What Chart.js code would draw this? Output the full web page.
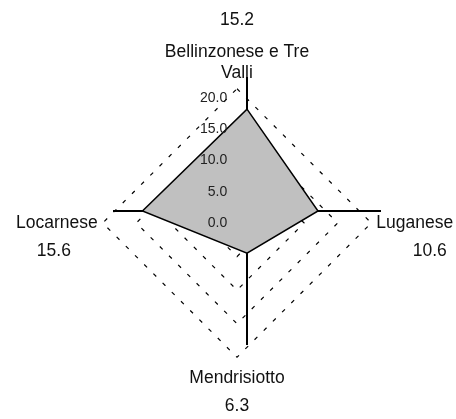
<!DOCTYPE html>
<html>
<head>
<meta charset="utf-8">
<script src="https://cdn.jsdelivr.net/npm/chart.js@4.4.0/dist/chart.umd.min.js"></script>
<style>
  html, body { margin: 0; padding: 0; background: #fff; overflow: hidden; }
  #wrap { position: relative; width: 456px; height: 419px; }
  #wrap canvas { position: absolute; left: 0; top: 0; }
</style>
</head>
<body>
<div id="wrap">
  <canvas id="gridChart" width="456" height="419"></canvas>
  <canvas id="dataChart" width="456" height="419"></canvas>
  <canvas id="tickChart" width="456" height="419"></canvas>
</div>
<script>
// ---- data ----
const regions = ["Bellinzonese e Tre Valli", "Luganese", "Mendrisiotto", "Locarnese"];
const shares = [15.2, 10.6, 6.3, 15.6];
const tickLabels = ["0.0", "5.0", "10.0", "15.0", "20.0"];
const scaleMax = 20;
const scaleStep = 5;

const FONT = "'Liberation Sans', Arial, sans-serif";

// split long category names into lines of at most n chars
function wrap(text, n) {
  const lines = [];
  let cur = "";
  text.split(" ").forEach((w) => {
    if (cur && (cur + " " + w).length > n) {
      lines.push(cur);
      cur = w;
    } else {
      cur = cur ? cur + " " + w : w;
    }
  });
  lines.push(cur);
  return lines.length > 1 ? lines : lines[0];
}

// values written next to the category names
const valueLabels = {
  id: "valueLabels",
  afterDraw(chart) {
    const scale = chart.scales.r;
    const ctx = chart.ctx;
    ctx.save();
    ctx.font = "17.5px " + FONT;
    ctx.fillStyle = "#111";
    ctx.textAlign = "center";
    ctx.textBaseline = "middle";
    shares.forEach((v, i) => {
      const box = scale.getPointLabelPosition(i);
      let x = (box.left + box.right) / 2;
      let y;
      if (box.bottom <= scale.yCenter - scale.drawingArea) {
        y = box.top - 22;
      } else {
        y = box.bottom + 18;
      }
      if (box.left > scale.xCenter) x += 15;
      if (box.right < scale.xCenter) x -= 3;
      ctx.fillText(v.toFixed(1), x, y);
    });
    ctx.restore();
  },
};

// the outer (grid) scale, shared by the grid and tick layers
function outerScale(showGrid, showTicks, showLabels) {
  return {
    min: -0.0001,
    max: scaleMax,
    angleLines: { display: false },
    grid: { display: showGrid, color: "#000", lineWidth: 1.2 },
    border: { dash: [4, 9] },
    ticks: {
      display: showTicks,
      stepSize: scaleStep,
      showLabelBackdrop: false,
      color: "#222",
      font: { family: FONT, size: 14 },
      callback: (v, i) => tickLabels[i].padStart(4, "\u2007") + "            ",
    },
    pointLabels: {
      display: true,
      color: showLabels ? "#111" : "rgba(0,0,0,0)",
      font: { family: FONT, size: 17.5 },
      padding: (ctx) => (ctx.index === 2 ? 10 : 5),
      callback: (label) => wrap(label, 18),
    },
  };
}

const outerPadding = { left: 14, right: 0, top: 33, bottom: 22 };
const quiet = { legend: { display: false }, tooltip: { enabled: false } };

new Chart(document.getElementById("gridChart"), {
  type: "radar",
  data: { labels: regions, datasets: [] },
  options: {
    responsive: false,
    animation: false,
    layout: { padding: outerPadding },
    plugins: quiet,
    scales: { r: outerScale(true, false, true) },
  },
  plugins: [valueLabels],
});

new Chart(document.getElementById("dataChart"), {
  type: "radar",
  data: {
    labels: regions,
    datasets: [
      {
        data: shares,
        backgroundColor: "#c0c0c0",
        borderColor: "#000",
        borderWidth: 1.5,
        pointRadius: 0,
        fill: true,
      },
    ],
  },
  options: {
    responsive: false,
    animation: false,
    layout: { padding: { left: 113, right: 75, top: 77, bottom: 74 } },
    plugins: quiet,
    elements: { line: { tension: 0 } },
    scales: {
      r: {
        min: 0,
        max: scaleMax,
        grid: { display: false },
        ticks: { display: false, z: 1 },
        pointLabels: { display: false },
        angleLines: { display: true, color: "#000", lineWidth: 2 },
      },
    },
  },
});

new Chart(document.getElementById("tickChart"), {
  type: "radar",
  data: { labels: regions, datasets: [] },
  options: {
    responsive: false,
    animation: false,
    layout: { padding: outerPadding },
    plugins: quiet,
    scales: { r: outerScale(false, true, false) },
  },
});
</script>
</body>
</html>
